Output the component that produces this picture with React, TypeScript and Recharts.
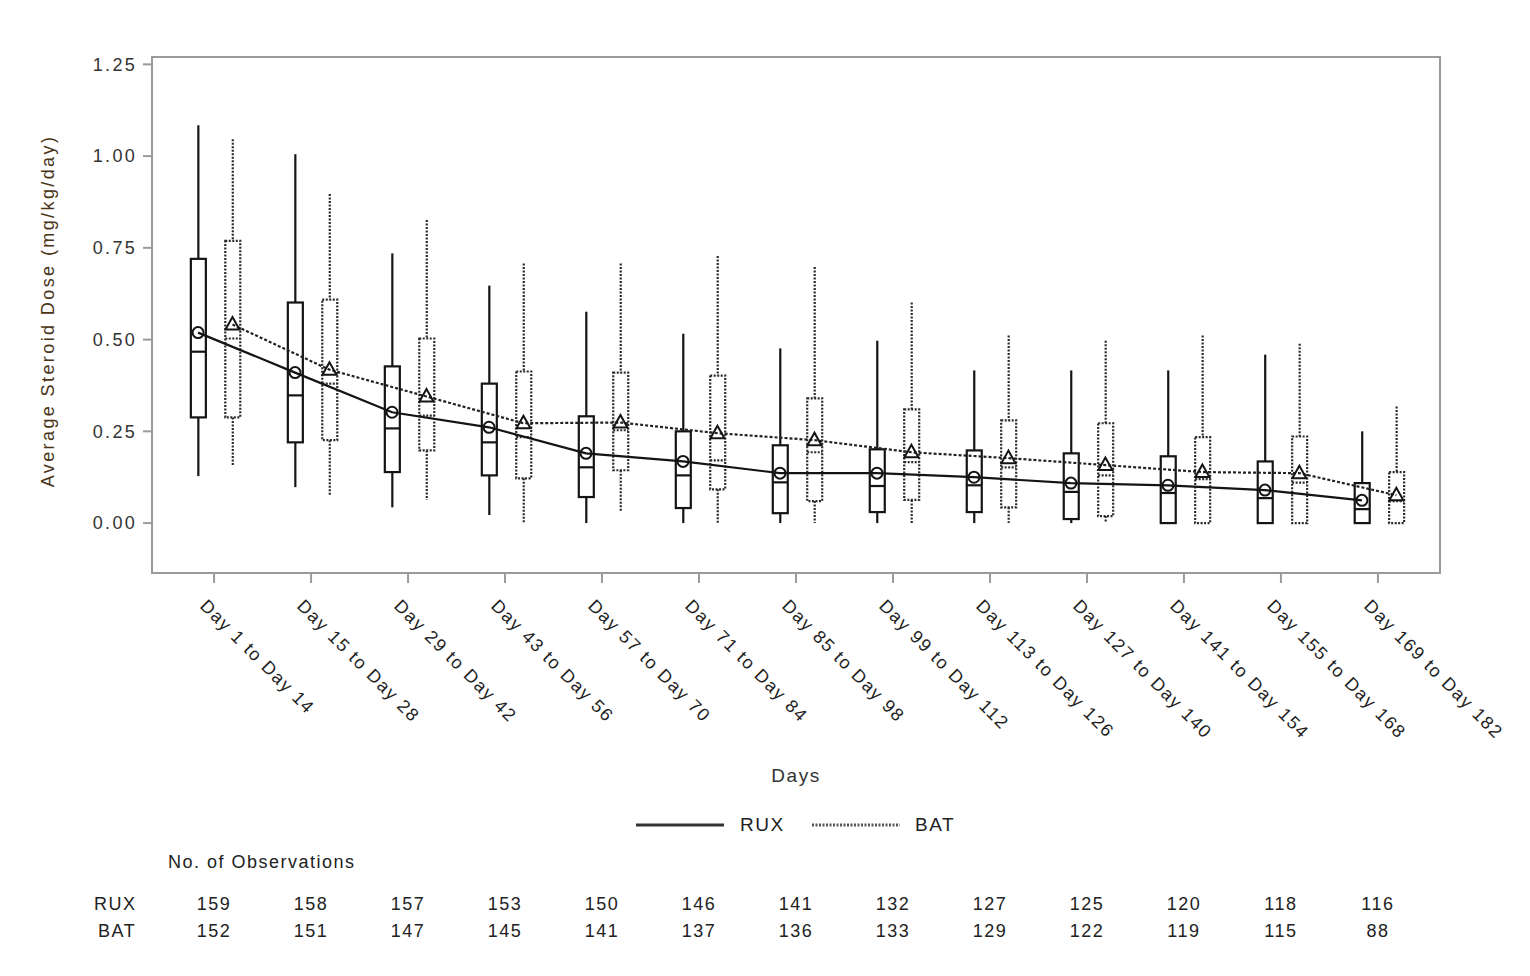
import React from "react";
import {
  ComposedChart,
  Bar,
  Line,
  XAxis,
  YAxis,
  ReferenceArea,
  Label,
} from "recharts";

const categories = [
  "Day 1 to Day 14",
  "Day 15 to Day 28",
  "Day 29 to Day 42",
  "Day 43 to Day 56",
  "Day 57 to Day 70",
  "Day 71 to Day 84",
  "Day 85 to Day 98",
  "Day 99 to Day 112",
  "Day 113 to Day 126",
  "Day 127 to Day 140",
  "Day 141 to Day 154",
  "Day 155 to Day 168",
  "Day 169 to Day 182",
];

// RUX box stats
const ruxMax = [1.084, 1.005, 0.735, 0.647, 0.576, 0.516, 0.476, 0.497, 0.416, 0.416, 0.416, 0.459, 0.25];
const ruxQ3 = [0.72, 0.601, 0.427, 0.38, 0.291, 0.25, 0.212, 0.201, 0.198, 0.19, 0.182, 0.168, 0.109];
const ruxMed = [0.467, 0.348, 0.258, 0.22, 0.152, 0.13, 0.111, 0.101, 0.103, 0.085, 0.082, 0.068, 0.038];
const ruxQ1 = [0.288, 0.22, 0.139, 0.13, 0.071, 0.041, 0.027, 0.03, 0.03, 0.011, 0, 0, 0];
const ruxMin = [0.128, 0.098, 0.043, 0.022, 0, 0, 0, 0, 0, 0, 0, 0, 0];
const ruxMean = [0.519, 0.41, 0.302, 0.261, 0.19, 0.168, 0.136, 0.136, 0.125, 0.109, 0.103, 0.09, 0.062];

// BAT box stats
const batMax = [1.046, 0.897, 0.826, 0.707, 0.707, 0.728, 0.698, 0.601, 0.511, 0.497, 0.511, 0.489, 0.318];
const batQ3 = [0.769, 0.609, 0.503, 0.413, 0.41, 0.402, 0.34, 0.31, 0.28, 0.272, 0.234, 0.236, 0.139];
const batMed = [0.503, 0.38, 0.293, 0.234, 0.253, 0.171, 0.193, 0.166, 0.152, 0.13, 0.12, 0.11, 0.06];
const batQ1 = [0.288, 0.226, 0.198, 0.122, 0.144, 0.092, 0.06, 0.063, 0.043, 0.019, 0, 0, 0];
const batMin = [0.158, 0.076, 0.063, 0, 0.033, 0, 0, 0, 0, 0, 0, 0, 0];
const batMean = [0.541, 0.418, 0.345, 0.272, 0.274, 0.245, 0.226, 0.193, 0.177, 0.158, 0.139, 0.136, 0.076];

// No. of observations
const ruxN = [159, 158, 157, 153, 150, 146, 141, 132, 127, 125, 120, 118, 116];
const batN = [152, 151, 147, 145, 141, 137, 136, 133, 129, 122, 119, 115, 88];

const yTicks = [0, 0.25, 0.5, 0.75, 1.0, 1.25];
const X_DOMAIN: [number, number] = [-0.64, 12.64];
const Y_DOMAIN: [number, number] = [-0.136, 1.27];
const RUX_OFF = -0.165;
const BAT_OFF = 0.19;

const FONT = '"Liberation Sans", Arial, sans-serif';
const INK = "#141414";
const FRAME = "#9a9a9a";

const data: any[] = [];
categories.forEach((_, i) => {
  data.push({
    x: i + RUX_OFF,
    grp: "RUX",
    range: [ruxMin[i], ruxMax[i]],
    lo: ruxMin[i],
    hi: ruxMax[i],
    q1: ruxQ1[i],
    q3: ruxQ3[i],
    med: ruxMed[i],
    ruxMean: ruxMean[i],
    batMean: null,
  });
  data.push({
    x: i + BAT_OFF,
    grp: "BAT",
    range: [batMin[i], batMax[i]],
    lo: batMin[i],
    hi: batMax[i],
    q1: batQ1[i],
    q3: batQ3[i],
    med: batMed[i],
    ruxMean: null,
    batMean: batMean[i],
  });
});

// box + whiskers drawn from the bar's own [min, max] geometry
const BoxShape = (props: any) => {
  const { x, y, width, height, payload } = props;
  if (x == null || y == null) return <g />;
  const { lo, hi, q1, q3, med, grp } = payload;
  const span = hi - lo || 1;
  const py = (v: number) => y + ((hi - v) / span) * height;
  const cx = x + width / 2;
  const bat = grp === "BAT";
  const dash = bat ? "2 1.5" : undefined;
  return (
    <g fill="none" stroke={bat ? "#2a2a2a" : INK} strokeWidth={2.2} strokeDasharray={dash}>
      <line x1={cx} x2={cx} y1={py(hi)} y2={py(q3)} />
      <line x1={cx} x2={cx} y1={py(q1)} y2={py(lo)} />
      <rect x={x} y={py(q3)} width={width} height={Math.max(py(q1) - py(q3), 0.5)} />
      <line x1={x} x2={x + width} y1={py(med)} y2={py(med)} />
    </g>
  );
};

const CircleDot = (props: any) => {
  const { cx, cy, value } = props;
  if (value == null || cx == null || cy == null) return <g key={props.index} />;
  return <circle key={props.index} cx={cx} cy={cy} r={5.5} fill="none" stroke={INK} strokeWidth={2} />;
};

const TriDot = (props: any) => {
  const { cx, cy, value } = props;
  if (value == null || cx == null || cy == null) return <g key={props.index} />;
  const pts = `${cx},${cy - 7.5} ${cx - 7},${cy + 5} ${cx + 7},${cy + 5}`;
  return <polygon key={props.index} points={pts} fill="none" stroke={INK} strokeWidth={2} />;
};

const XTick = (props: any) => {
  const { x, y, payload } = props;
  const tx = x - 15;
  const ty = y + 22;
  return (
    <text
      x={tx}
      y={ty}
      transform={`rotate(45 ${tx} ${ty})`}
      textAnchor="start"
      fontFamily={FONT}
      fontSize={18}
      letterSpacing={1.6}
      fill="#1f1f1f"
    >
      {categories[payload.value]}
    </text>
  );
};

const YLabel = (props: any) => {
  const { x, y, height } = props.viewBox;
  const cx = x + 40;
  const cy = y + height / 2 - 4;
  return (
    <text
      x={cx}
      y={cy}
      transform={`rotate(-90 ${cx} ${cy})`}
      textAnchor="middle"
      dominantBaseline="central"
      fontFamily={FONT}
      fontSize={18}
      letterSpacing={2.4}
      fill="#4a3418"
    >
      Average Steroid Dose (mg/kg/day)
    </text>
  );
};

// plot geometry used for aligning the table under the ticks
const CHART_W = 1514;
const PLOT_L = 144;
const PLOT_W = 1288;
const colX = (i: number) => PLOT_L + ((i - X_DOMAIN[0]) / (X_DOMAIN[1] - X_DOMAIN[0])) * PLOT_W;

export default function App() {
  const txt: React.CSSProperties = {
    position: "absolute",
    fontFamily: FONT,
    fontSize: 18,
    letterSpacing: 1.5,
    color: "#222",
    whiteSpace: "nowrap",
    lineHeight: "20px",
  };
  return (
    <div style={{ position: "relative", width: CHART_W, height: 960, background: "#fff" }}>
      <ComposedChart
        width={CHART_W}
        height={790}
        data={data}
        margin={{ top: 49, right: 82, bottom: 10, left: 0 }}
      >
        <XAxis
          dataKey="x"
          type="number"
          domain={X_DOMAIN}
          allowDataOverflow
          ticks={categories.map((_, i) => i)}
          interval={0}
          axisLine={false}
          tickLine={{ stroke: FRAME, strokeWidth: 2 }}
          tickSize={10}
          height={215}
          tick={<XTick />}
        >
          <Label
            value="Days"
            position="insideBottom"
            offset={6}
            style={{ fontFamily: FONT, fontSize: 19, letterSpacing: 1.5, fill: "#333" }}
          />
        </XAxis>
        <YAxis
          type="number"
          domain={Y_DOMAIN}
          allowDataOverflow
          ticks={yTicks}
          width={144}
          axisLine={false}
          tickLine={{ stroke: FRAME, strokeWidth: 2 }}
          tickSize={9}
          tickMargin={6}
          tickFormatter={(v: number) => v.toFixed(2)}
          tick={{ fontFamily: FONT, fontSize: 18, letterSpacing: 2.3, fill: "#333" }}
        >
          <Label content={<YLabel />} />
        </YAxis>
        <ReferenceArea
          x1={X_DOMAIN[0]}
          x2={X_DOMAIN[1]}
          y1={Y_DOMAIN[0]}
          y2={Y_DOMAIN[1]}
          fill="none"
          fillOpacity={0}
          stroke={FRAME}
          strokeWidth={2}
          ifOverflow="visible"
        />
        <Bar dataKey="range" barSize={15} shape={<BoxShape />} isAnimationActive={false} />
        <Line
          dataKey="ruxMean"
          type="linear"
          connectNulls
          stroke={INK}
          strokeWidth={2.2}
          dot={CircleDot}
          activeDot={false}
          isAnimationActive={false}
        />
        <Line
          dataKey="batMean"
          type="linear"
          connectNulls
          stroke="#222"
          strokeWidth={2.2}
          strokeDasharray="3 2"
          dot={TriDot}
          activeDot={false}
          isAnimationActive={false}
        />
      </ComposedChart>

      {/* legend */}
      <svg style={{ position: "absolute", left: 620, top: 807 }} width={360} height={22}>
        <line x1={8} x2={96} y1={10} y2={10} stroke="#333" strokeWidth={3} />
        <line x1={184} x2={272} y1={10} y2={10} stroke="#555" strokeWidth={3} strokeDasharray="2 1.5" />
      </svg>
      <div style={{ ...txt, left: 732, top: 807, fontSize: 19 }}>RUX</div>
      <div style={{ ...txt, left: 907, top: 807, fontSize: 19 }}>BAT</div>

      {/* observations table */}
      <div style={{ ...txt, left: 160, top: 844 }}>No. of Observations</div>
      <div style={{ ...txt, left: 86, top: 886 }}>RUX</div>
      <div style={{ ...txt, left: 90, top: 913 }}>BAT</div>
      {ruxN.map((n, i) => (
        <div key={"r" + i} style={{ ...txt, left: colX(i) - 30, width: 60, textAlign: "center", top: 886 }}>
          {n}
        </div>
      ))}
      {batN.map((n, i) => (
        <div key={"b" + i} style={{ ...txt, left: colX(i) - 30, width: 60, textAlign: "center", top: 913 }}>
          {n}
        </div>
      ))}
    </div>
  );
}
